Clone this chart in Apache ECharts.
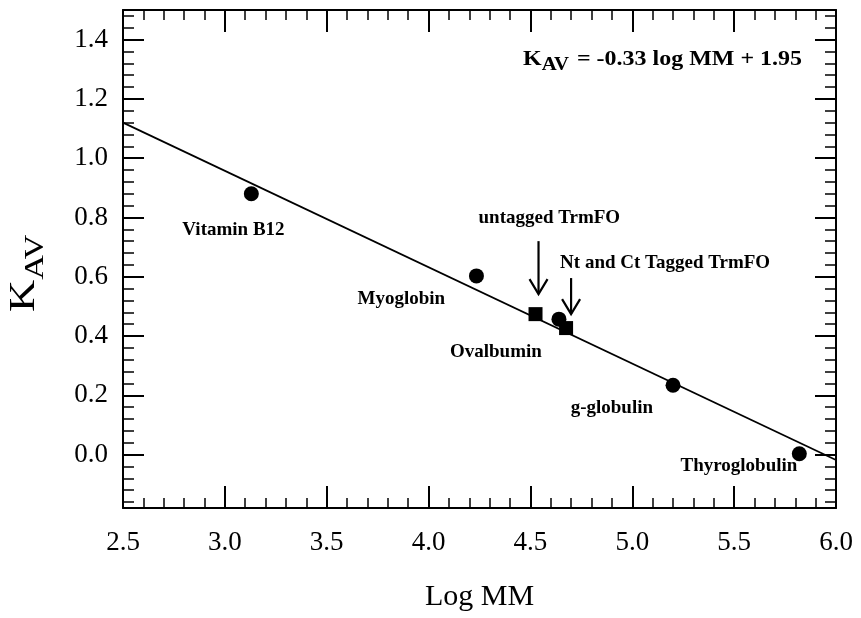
<!DOCTYPE html>
<html>
<head>
<meta charset="utf-8">
<script src="https://cdn.jsdelivr.net/npm/echarts@6/dist/echarts.min.js"></script>
<style>
  html, body { margin: 0; padding: 0; background: #fff; }
  #chart { width: 861px; height: 618px; }
</style>
</head>
<body>
<div id="chart"></div>
<script>
// ---- data ----
const standardNames = ['Vitamin B12', 'Myoglobin', 'Ovalbumin', 'g-globulin', 'Thyroglobulin'];
const standardLogMM = [3.13, 4.235, 4.64, 5.20, 5.82];
const standardKav   = [0.880, 0.603, 0.457, 0.234, 0.003];

const trmfoNames = ['untagged TrmFO', 'Nt and Ct Tagged TrmFO'];
const trmfoLogMM = [4.525, 4.675];
const trmfoKav   = [0.474, 0.427];

const fitLogMM = [2.5, 6.0];
const fitKav   = [1.12, -0.018];

const xTickLabels = [2.5, 3.0, 3.5, 4.0, 4.5, 5.0, 5.5, 6.0];
const yTickLabels = [0.0, 0.2, 0.4, 0.6, 0.8, 1.0, 1.2, 1.4];

const xAxisTitle = 'Log MM';
const yAxisTitleMain = 'K';
const yAxisTitleSub = 'AV';
const equationMain = 'K';
const equationSub = 'AV';
const equationRest = '= -0.33 log MM + 1.95';

// ---- style / layout ----
const serif = 'Liberation Serif';
const xMinorTicks = [];
for (let i = 25; i <= 60; i++) xMinorTicks.push(i / 10);
const yMinorTicks = [];
for (let i = -4; i <= 37; i++) yMinorTicks.push(i * 0.04);

const X_MIN = 2.5, X_MAX = 6.0, Y_MIN = -0.18, Y_MAX = 1.5;

// label placement for each point (pixels relative to marker)
const standardLabelStyle = [
  { align: 'left',  offset: [-69, 36] },
  { align: 'left',  offset: [-119, 23] },
  { align: 'left',  offset: [-109, 33] },
  { align: 'right', offset: [-20, 23] },
  { align: 'right', offset: [-2, 12] }
];
const trmfoLabelStyle = [
  { align: 'left', offset: [-57, -96] },
  { align: 'left', offset: [-6, -65] }
];
const arrowStyle = [
  { dx: 3, top: -73, tip: -20 },
  { dx: 5, top: -50, tip: -14 }
];

function valueAxis(pos, isX, major, withLabels, withLine, tickLen, tickValues, tickWidth) {
  return {
    type: 'value',
    position: pos,
    min: isX ? X_MIN : Y_MIN,
    max: isX ? X_MAX : Y_MAX,
    splitLine: { show: false },
    axisLine: { show: withLine, onZero: false, lineStyle: { color: '#000', width: 2 } },
    axisTick: { show: true, inside: true, length: tickLen, customValues: tickValues,
      lineStyle: { color: '#000', width: tickWidth } },
    axisLabel: { show: withLabels, customValues: major, formatter: v => v.toFixed(1),
      color: '#000', fontFamily: serif, fontSize: 27, margin: isX ? 21 : 15 }
  };
}

const xBottom = valueAxis('bottom', true, xTickLabels, true, true, 22, xTickLabels, 2);
xBottom.name = xAxisTitle;
xBottom.nameLocation = 'middle';
xBottom.nameGap = 74;
xBottom.nameTextStyle = { fontFamily: serif, fontSize: 30, color: '#000' };

const option = {
  backgroundColor: '#fff',
  animation: false,
  grid: { left: 123, right: 25, top: 10, bottom: 110, containLabel: false, outerBoundsMode: 'none' },
  xAxis: [
    xBottom,
    valueAxis('bottom', true, xTickLabels, false, false, 10, xMinorTicks, 1.5),
    valueAxis('top', true, xTickLabels, false, true, 22, xTickLabels, 2),
    valueAxis('top', true, xTickLabels, false, false, 10, xMinorTicks, 1.5)
  ],
  yAxis: [
    valueAxis('left', false, yTickLabels, true, true, 21, yTickLabels, 2),
    valueAxis('left', false, yTickLabels, false, false, 11, yMinorTicks, 1.5),
    valueAxis('right', false, yTickLabels, false, true, 21, yTickLabels, 2),
    valueAxis('right', false, yTickLabels, false, false, 11, yMinorTicks, 1.5)
  ],
  graphic: [
    {
      // y-axis title K_AV, rotated
      type: 'group',
      x: 25, y: 312,
      rotation: Math.PI / 2,
      scaleX: 1.27,
      children: [
        { type: 'text', x: 0, y: 0,
          style: { text: yAxisTitleMain, font: '35px "Liberation Serif"', fill: '#000', align: 'left', verticalAlign: 'middle' } },
        { type: 'text', x: 25.3, y: 11,
          style: { text: yAxisTitleSub, font: '27px "Liberation Serif"', fill: '#000', align: 'left', verticalAlign: 'middle' } }
      ]
    },
    {
      // equation, top right
      type: 'group',
      x: 523, y: 59,
      scaleX: 1.09,
      children: [
        { type: 'text', x: 0, y: 0,
          style: { text: equationMain, font: 'bold 22px "Liberation Serif"', fill: '#000', align: 'left', verticalAlign: 'middle' } },
        { type: 'text', x: 17.1, y: 6.4,
          style: { text: equationSub, font: 'bold 19px "Liberation Serif"', fill: '#000', align: 'left', verticalAlign: 'middle' } },
        { type: 'text', x: 49.5, y: 0,
          style: { text: equationRest, font: 'bold 22px "Liberation Serif"', fill: '#000', align: 'left', verticalAlign: 'middle' } }
      ]
    }
  ],
  series: [
    {
      type: 'line',
      data: fitLogMM.map((x, i) => [x, fitKav[i]]),
      symbol: 'none',
      lineStyle: { color: '#000', width: 1.7 },
      silent: true,
      z: 2
    },
    {
      type: 'scatter',
      symbol: 'circle',
      symbolSize: 15,
      itemStyle: { color: '#000', opacity: 1 },
      data: standardNames.map((n, i) => ({
        name: n,
        value: [standardLogMM[i], standardKav[i]],
        label: {
          show: true, position: 'inside', formatter: '{b}',
          align: standardLabelStyle[i].align, verticalAlign: 'middle',
          offset: standardLabelStyle[i].offset,
          fontFamily: serif, fontWeight: 'bold', fontSize: 19, color: '#000'
        }
      })),
      z: 3
    },
    {
      type: 'scatter',
      symbol: 'rect',
      symbolSize: 14,
      itemStyle: { color: '#000', opacity: 1 },
      data: trmfoNames.map((n, i) => ({
        name: n,
        value: [trmfoLogMM[i], trmfoKav[i]],
        label: {
          show: true, position: 'inside', formatter: '{b}',
          align: trmfoLabelStyle[i].align, verticalAlign: 'middle',
          offset: trmfoLabelStyle[i].offset,
          fontFamily: serif, fontWeight: 'bold', fontSize: 19, color: '#000'
        }
      })),
      z: 4
    },
    {
      type: 'custom',
      silent: true,
      data: trmfoLogMM.map((x, i) => [x, trmfoKav[i]]),
      renderItem: function (params, api) {
        const p = api.coord([api.value(0), api.value(1)]);
        const a = arrowStyle[params.dataIndex];
        const x = p[0] + a.dx, y0 = p[1] + a.top, y1 = p[1] + a.tip;
        const st = { stroke: '#000', lineWidth: 2.2, fill: null };
        return {
          type: 'group',
          children: [
            { type: 'line', shape: { x1: x, y1: y0, x2: x, y2: y1 }, style: st },
            { type: 'polyline', shape: { points: [[x - 9, y1 - 15], [x, y1], [x + 9, y1 - 15]] }, style: st }
          ]
        };
      },
      z: 5
    }
  ]
};

const chart = echarts.init(document.getElementById('chart'), null, { renderer: 'canvas' });
chart.setOption(option);
</script>
</body>
</html>
